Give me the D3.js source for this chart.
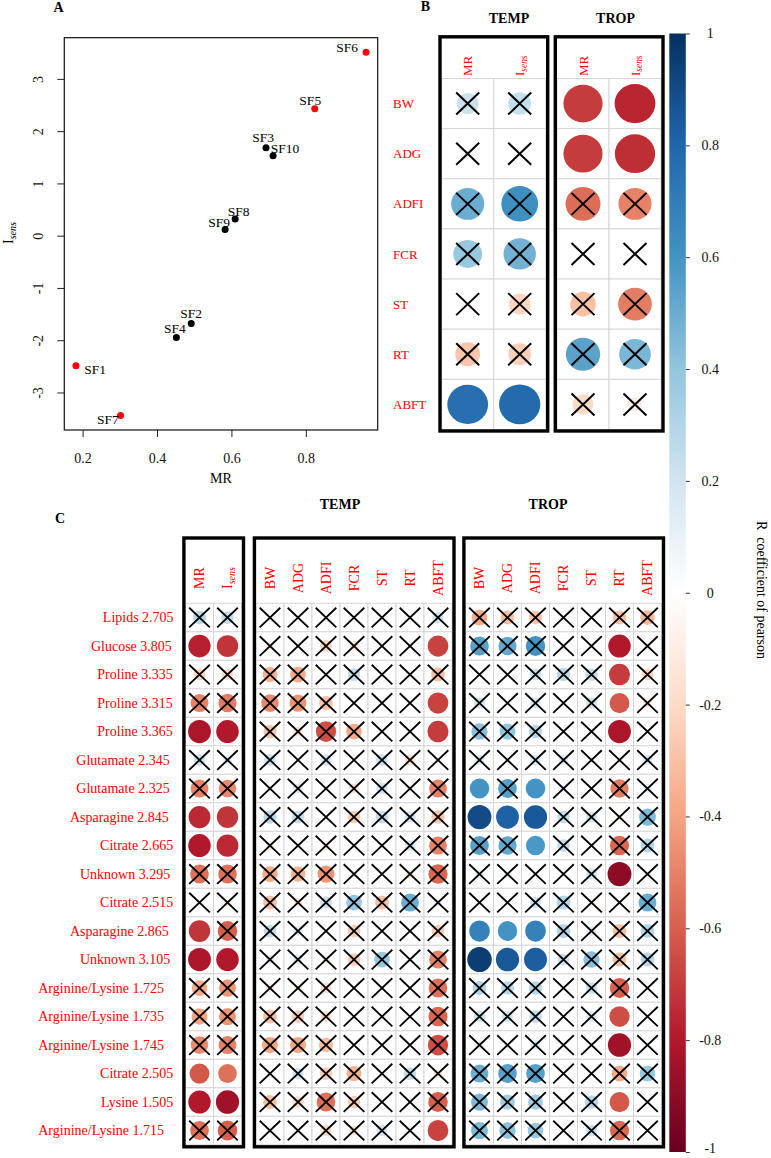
<!DOCTYPE html>
<html><head><meta charset="utf-8">
<script src="https://cdn.jsdelivr.net/npm/d3@7"></script>
<style>
body{margin:0;background:#fff}
svg{display:block}
text{font-family:"Liberation Serif","Times New Roman",serif}
</style>
</head><body>
<svg id="chart" width="771" height="1158"></svg>
<script>
// ---------- Panel A data ----------
const scatterNames = ["SF1","SF2","SF3","SF4","SF5","SF6","SF7","SF8","SF9","SF10"];
const scatterMR    = [0.182,0.492,0.693,0.452,0.824,0.962,0.302,0.610,0.583,0.712];
const scatterIsens = [-2.49,-1.68,1.68,-1.95,2.43,3.51,-3.44,0.32,0.12,1.53];
const scatterRed   = [1,0,0,0,1,1,1,0,0,0];
const xTicks = [0.2,0.4,0.6,0.8];
const yTicks = [-3,-2,-1,0,1,2,3];

// ---------- Panel B data ----------
const bGroups = ["TEMP","TROP"];
const bIndices = ["MR","Isens"];
const bTraits = ["BW","ADG","ADFI","FCR","ST","RT","ABFT"];
const bTempR = [[0.22,0.24],[0.04,0.02],[0.50,0.62],[0.38,0.48],[-0.05,-0.22],[-0.28,-0.24],[0.76,0.78]];
const bTempSig = [[0,0],[0,0],[0,0],[0,0],[0,0],[0,0],[1,1]];
const bTropR = [[-0.70,-0.76],[-0.70,-0.74],[-0.56,-0.50],[-0.02,0.05],[-0.30,-0.52],[0.54,0.46],[-0.20,-0.10]];
const bTropSig = [[1,1],[1,1],[0,0],[0,0],[0,0],[0,0],[0,0]];

// ---------- Panel C data ----------
const cTraits = ["BW","ADG","ADFI","FCR","ST","RT","ABFT"];
const cMetabolites = ["Lipids 2.705","Glucose 3.805","Proline 3.335","Proline 3.315","Proline 3.365",
  "Glutamate 2.345","Glutamate 2.325","Asparagine 2.845","Citrate 2.665","Unknown 3.295","Citrate 2.515",
  "Asparagine 2.865","Unknown 3.105","Arginine/Lysine 1.725","Arginine/Lysine 1.735","Arginine/Lysine 1.745",
  "Citrate 2.505","Lysine 1.505","Arginine/Lysine 1.715"];
const cIndexR = [[0.28,0.25],[-0.78,-0.72],[-0.22,-0.20],[-0.50,-0.52],[-0.82,-0.80],[0.22,0.12],[-0.50,-0.48],
  [-0.75,-0.72],[-0.80,-0.75],[-0.55,-0.55],[-0.03,-0.10],[-0.72,-0.60],[-0.82,-0.80],[-0.38,-0.45],[-0.40,-0.45],
  [-0.48,-0.50],[-0.62,-0.55],[-0.80,-0.85],[-0.55,-0.60]];
const cIndexSig = [[0,0],[1,1],[0,0],[0,0],[1,1],[0,0],[0,0],[1,1],[1,1],[0,0],[0,0],[1,0],[1,1],[0,0],[0,0],
  [0,0],[1,1],[1,1],[0,0]];
const cTempR = [
  [0.02,0.01,-0.02,0.01,0.02,0.02,0.20],
  [-0.10,0.02,-0.22,-0.15,0.01,0.03,-0.68],
  [-0.35,-0.38,0.02,0.25,0.01,0.02,-0.30],
  [-0.48,-0.45,-0.30,0.02,0.01,0.02,-0.68],
  [-0.28,-0.15,-0.65,-0.38,0.01,0.02,-0.70],
  [0.22,0.02,0.20,0.02,0.22,-0.18,0.03],
  [0.05,0.15,0.02,-0.15,0.20,0.02,-0.50],
  [0.28,0.25,0.02,-0.25,0.25,0.20,-0.28],
  [-0.12,0.02,-0.12,0.01,0.02,0.18,-0.50],
  [-0.38,-0.35,-0.45,-0.05,0.01,-0.12,-0.58],
  [-0.30,-0.12,0.22,0.38,-0.30,0.50,0.10],
  [0.25,0.15,0.02,-0.25,0.02,0.01,-0.25],
  [0.12,0.15,-0.10,-0.25,0.38,0.02,-0.50],
  [-0.12,-0.10,-0.18,0.01,0.05,-0.02,-0.55],
  [-0.30,-0.25,-0.18,0.01,0.02,0.02,-0.58],
  [-0.40,-0.40,-0.32,0.01,0.02,-0.05,-0.65],
  [0.02,0.20,-0.25,-0.35,0.02,0.25,-0.12],
  [-0.30,-0.20,-0.55,-0.25,0.02,0.02,-0.60],
  [-0.05,0.02,-0.20,-0.15,0.20,0.02,-0.68]];
const cTempSig = [
  [0,0,0,0,0,0,0],[0,0,0,0,0,0,1],[0,0,0,0,0,0,0],[0,0,0,0,0,0,1],[0,0,0,0,0,0,1],
  [0,0,0,0,0,0,0],[0,0,0,0,0,0,0],[0,0,0,0,0,0,0],[0,0,0,0,0,0,0],[0,0,0,0,0,0,0],
  [0,0,0,0,0,0,0],[0,0,0,0,0,0,0],[0,0,0,0,0,0,0],[0,0,0,0,0,0,0],[0,0,0,0,0,0,0],
  [0,0,0,0,0,0,0],[0,0,0,0,0,0,0],[0,0,0,0,0,0,0],[0,0,0,0,0,0,1]];
const cTropR = [
  [-0.38,-0.30,-0.28,-0.08,-0.02,-0.30,-0.33],
  [0.55,0.52,0.60,0.08,0.01,-0.80,0.10],
  [0.01,0.02,0.22,0.28,0.25,-0.70,-0.22],
  [0.20,0.03,0.18,0.02,0.20,-0.62,-0.12],
  [0.42,0.40,0.28,0.01,0.08,-0.82,0.02],
  [0.15,0.02,0.18,0.15,0.01,0.02,0.15],
  [0.60,0.55,0.60,0.10,0.02,-0.52,0.12],
  [0.90,0.82,0.85,0.25,0.20,-0.08,0.45],
  [0.55,0.52,0.58,0.25,0.02,-0.58,0.30],
  [0.12,0.10,0.05,0.02,0.20,-0.90,-0.08],
  [0.03,0.05,0.20,0.30,-0.08,0.02,0.50],
  [0.68,0.60,0.68,0.30,0.15,-0.30,0.30],
  [0.95,0.85,0.83,0.22,0.42,-0.30,0.30],
  [0.30,0.28,0.28,0.02,0.22,-0.60,0.02],
  [0.22,0.20,0.25,0.02,0.18,-0.65,0.01],
  [0.12,0.05,0.15,0.01,0.03,-0.85,0.02],
  [0.50,0.55,0.55,0.02,0.02,-0.38,0.38],
  [0.45,0.35,0.35,0.01,0.28,-0.62,0.02],
  [0.45,0.42,0.38,0.01,0.22,-0.58,0.02]];
const cTropSig = [
  [0,0,0,0,0,0,0],[0,0,0,0,0,1,0],[0,0,0,0,0,1,0],[0,0,0,0,0,1,0],[0,0,0,0,0,1,0],
  [0,0,0,0,0,0,0],[1,0,1,0,0,0,0],[1,1,1,0,0,0,0],[0,0,1,0,0,0,0],[0,0,0,0,0,1,0],
  [0,0,0,0,0,0,0],[1,1,1,0,0,0,0],[1,1,1,0,0,0,0],[0,0,0,0,0,0,0],[0,0,0,0,0,1,0],
  [0,0,0,0,0,1,0],[0,0,0,0,0,0,0],[0,0,0,0,0,1,0],[0,0,0,0,0,0,0]];
const colorbarTicks = [1,0.8,0.6,0.4,0.2,0,-0.2,-0.4,-0.6,-0.8,-1];
const colorbarTitle = "R  coefficient of pearson";

// ---------- setup ----------
const svg = d3.select("#chart");
const RED = "#ff0000";
const paletteStops = ["#67001F","#B2182B","#D6604D","#F4A582","#FDDBC7","#FFFFFF","#D1E5F0","#92C5DE","#4393C3","#2166AC","#053061"];
const color = d3.scaleLinear().domain(d3.range(11).map(i => -1 + i * 0.2)).range(paletteStops);

function isensLabel(sel, size) {
  sel.append("tspan").text("I");
  sel.append("tspan").attr("font-style","italic").attr("font-size", size*0.72).attr("dy", size*0.22).text("sens");
}

// ---------- Panel A ----------
const A = {left:64.3, right:377.7, top:37.7, bottom:430};
const exX = d3.extent(scatterMR), padX = (exX[1]-exX[0])*0.04;
const exY = d3.extent(scatterIsens), padY = (exY[1]-exY[0])*0.04;
const xA = d3.scaleLinear().domain([exX[0]-padX, exX[1]+padX]).range([A.left, A.right]);
const yA = d3.scaleLinear().domain([exY[0]-padY, exY[1]+padY]).range([A.bottom, A.top]);

const gA = svg.append("g");
const xAx = gA.append("g").attr("transform",`translate(0,${A.bottom})`)
  .call(d3.axisBottom(xA).tickValues(xTicks).tickSize(7).tickFormat(d3.format(".1f")));
xAx.select(".domain").remove();
xAx.selectAll("text").attr("y",33).attr("dy",null).attr("font-size",14).attr("fill","#111");
xAx.selectAll("line").attr("stroke","#222");
const yAx = gA.append("g").attr("transform",`translate(${A.left},0)`)
  .call(d3.axisLeft(yA).tickValues(yTicks).tickSize(7).tickFormat(d => String(d)));
yAx.select(".domain").remove();
yAx.selectAll("line").attr("stroke","#222");
yAx.selectAll("text").attr("transform","rotate(-90)").attr("x",0).attr("y",-21.5).attr("dy",null)
  .attr("text-anchor","middle").attr("font-size",14).attr("fill","#111");
gA.append("rect").attr("x",A.left).attr("y",A.top).attr("width",A.right-A.left).attr("height",A.bottom-A.top)
  .attr("fill","none").attr("stroke","#111").attr("stroke-width",1.2);
gA.append("text").attr("x",(A.left+A.right)/2).attr("y",483).attr("text-anchor","middle").attr("font-size",14).text("MR");
const yl = gA.append("text").attr("transform","translate(13,233) rotate(-90)").attr("text-anchor","middle").attr("font-size",14);
isensLabel(yl,14);

const labelPlace = {SF1:["start",8.3,3.3],SF2:["middle",0,-9.7],SF3:["middle",-3,-10.7],SF4:["middle",-1.5,-8.7],
  SF5:["middle",-4.5,-8.6],SF6:["end",-8,-4.7],SF7:["end",-1.7,3.6],SF8:["middle",3.4,-7.7],SF9:["end",5,-6.7],SF10:["start",-2.3,-7]};
const pts = scatterNames.map((n,i)=>({n, x:scatterMR[i], y:scatterIsens[i], red:scatterRed[i]}));
gA.selectAll("circle.pt").data(pts).join("circle").attr("class","pt")
  .attr("cx",d=>xA(d.x)).attr("cy",d=>yA(d.y)).attr("r",3.5).attr("fill",d=>d.red?RED:"#000");
gA.selectAll("text.lab").data(pts).join("text").attr("class","lab")
  .attr("x",d=>xA(d.x)+labelPlace[d.n][1]).attr("y",d=>yA(d.y)+labelPlace[d.n][2]+4.5)
  .attr("text-anchor",d=>labelPlace[d.n][0]).attr("font-size",13.5).attr("fill","#000").text(d=>d.n);

// ---------- generic correlation block ----------
function drawBlock(x0, y0, cw, rh, vals, sig, cross, stroke) {
  const nR = vals.length, nC = vals[0].length;
  const xs = d3.scaleBand().domain(d3.range(nC)).range([x0, x0+nC*cw]);
  const ys = d3.scaleBand().domain(d3.range(nR)).range([y0, y0+nR*rh]);
  const cells = [];
  vals.forEach((row,i)=>row.forEach((v,j)=>cells.push({i,j,v,s:sig[i][j]})));
  const g = svg.append("g");
  g.selectAll("rect").data(cells).join("rect")
    .attr("x",d=>xs(d.j)).attr("y",d=>ys(d.i)).attr("width",cw).attr("height",rh)
    .attr("fill","#fff").attr("stroke","#d6d6d6").attr("stroke-width",1);
  g.selectAll("ellipse").data(cells).join("ellipse")
    .attr("cx",d=>xs(d.j)+cw/2).attr("cy",d=>ys(d.i)+rh/2)
    .attr("rx",d=>0.45*cw*Math.sqrt(Math.abs(d.v))).attr("ry",d=>0.45*rh*Math.sqrt(Math.abs(d.v)))
    .attr("fill",d=>color(d.v));
  g.selectAll("path").data(cells.filter(d=>!d.s)).join("path")
    .attr("d",d=>{const cx=xs(d.j)+cw/2, cy=ys(d.i)+rh/2, a=cross[0], b=cross[1];
      return `M${cx-a},${cy-b}L${cx+a},${cy+b}M${cx-a},${cy+b}L${cx+a},${cy-b}`;})
    .attr("stroke","#000").attr("stroke-width",stroke).attr("fill","none");
  return {xs, ys, x1:x0+nC*cw, y1:y0+nR*rh};
}
function frame(x0,y0,x1,y1){
  svg.append("rect").attr("x",x0).attr("y",y0).attr("width",x1-x0).attr("height",y1-y0)
    .attr("fill","none").attr("stroke","#000").attr("stroke-width",3.4);
}

// ---------- Panel B ----------
const B = {y0:78.5, rh:50.14, cw:52, frameTop:36.8, xs:[441.7,557]};
const bVals = [bTempR, bTropR], bSig = [bTempSig, bTropSig];
bGroups.forEach((grp,gi)=>{
  const blk = drawBlock(B.xs[gi], B.y0, B.cw, B.rh, bVals[gi], bSig[gi], [11.5,11], 2);
  frame(B.xs[gi]-1.7, B.frameTop, blk.x1+2, blk.y1+1.5);
  bIndices.forEach((lab,j)=>{
    const t = svg.append("text").attr("transform",`translate(${blk.xs(j)+B.cw/2+4.5},76) rotate(-90)`)
      .attr("text-anchor","start").attr("font-size",13).attr("fill",RED);
    if (lab==="Isens") isensLabel(t,13); else t.text(lab);
  });
  svg.append("text").attr("x",[509,615.5][gi]).attr("y",23).attr("text-anchor","middle")
    .attr("font-weight","bold").attr("font-size",14).text(grp);
  if (gi===0) {
    svg.selectAll("text.brow").data(bTraits).join("text").attr("class","brow")
      .attr("x",393).attr("y",(d,i)=>blk.ys(i)+B.rh/2).attr("dy","0.35em")
      .attr("font-size",13).attr("fill",RED).text(d=>d);
  }
});

// ---------- Panel C ----------
const C = {y0:603.3, rh:28.5, cw:28, frameTop:538, xs:[185.5,256,465.5]};
const cBlocks = [
  {vals:cIndexR, sig:cIndexSig, labels:bIndices},
  {vals:cTempR, sig:cTempSig, labels:cTraits},
  {vals:cTropR, sig:cTropSig, labels:cTraits}];
let firstBlk;
cBlocks.forEach((cb,bi)=>{
  const blk = drawBlock(C.xs[bi], C.y0, C.cw, C.rh, cb.vals, cb.sig, [10.3,9.8], 1.8);
  if (bi===0) firstBlk = blk;
  frame(C.xs[bi]-1.6, C.frameTop, blk.x1+2, blk.y1+2);
  cb.labels.forEach((lab,j)=>{
    const t = svg.append("text").attr("transform",`translate(${blk.xs(j)+C.cw/2+4.5},578) rotate(-90)`)
      .attr("text-anchor","middle").attr("font-size",14).attr("fill",RED);
    if (lab==="Isens") isensLabel(t,14); else t.text(lab);
  });
});
svg.selectAll("text.crow").data(cMetabolites).join("text").attr("class","crow")
  .attr("y",(d,i)=>firstBlk.ys(i)+C.rh/2).attr("dy","0.35em")
  .attr("text-anchor","end").attr("font-size",14).attr("fill",RED).text(d=>d)
  .attr("x",function(){ return 186 - 0.175*this.getComputedTextLength(); });
svg.append("text").attr("x",340).attr("y",509).attr("text-anchor","middle").attr("font-weight","bold").attr("font-size",14).text("TEMP");
svg.append("text").attr("x",548).attr("y",509).attr("text-anchor","middle").attr("font-weight","bold").attr("font-size",14).text("TROP");

// ---------- panel letters ----------
[["A",53.5,12],["B",420.7,11],["C",55,523]].forEach(([t,x,y])=>
  svg.append("text").attr("x",x).attr("y",y).attr("font-weight","bold").attr("font-size",14).text(t));

// ---------- colorbar ----------
const cb = {x:669.3, w:16.5, top:33.5, bottom:1152};
const cbY = d3.scaleLinear().domain([1,-1]).range([cb.top, cb.bottom]);
const grad = svg.append("defs").append("linearGradient").attr("id","cbgrad")
  .attr("x1",0).attr("y1",0).attr("x2",0).attr("y2",1);
grad.selectAll("stop").data(d3.range(0,1.0001,0.05)).join("stop")
  .attr("offset",d=>d).attr("stop-color",d=>color(1-2*d));
svg.append("rect").attr("x",cb.x).attr("y",cb.top).attr("width",cb.w).attr("height",cb.bottom-cb.top).attr("fill","url(#cbgrad)");
const cbAx = svg.append("g").attr("transform",`translate(${cb.x+cb.w},0)`)
  .call(d3.axisRight(cbY).tickValues(colorbarTicks).tickSize(4).tickFormat(d=>String(d)));
cbAx.select(".domain").remove();
cbAx.selectAll("line").attr("stroke","#333");
cbAx.selectAll("text").attr("x",24.5).attr("text-anchor","middle").attr("font-size",14).attr("fill","#111")
  .attr("dy",d=>d===-1?"0.05em":"0.32em");
svg.append("text").attr("transform",`translate(757,590) rotate(90)`).attr("text-anchor","middle")
  .style("white-space","pre").attr("font-size",14).text(colorbarTitle);
</script>
</body></html>
